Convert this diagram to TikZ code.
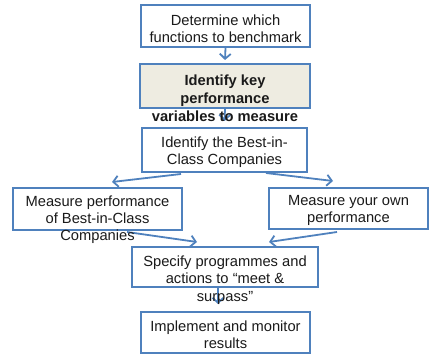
\documentclass[tikz,border=0pt]{standalone}
\usepackage{fontspec}
\setmainfont{Liberation Sans}
\usetikzlibrary{arrows.meta,calc}
\definecolor{bblue}{HTML}{4F81BD}
\definecolor{beige}{HTML}{EEECE1}
\definecolor{txtc}{HTML}{1A1A1A}
\tikzset{
  box/.style={draw=bblue, line width=2pt, rectangle, inner sep=0pt, fill=white},
  txt/.style={align=center, text=txtc, font=\fontsize{14.7}{17.2}\selectfont, inner sep=0pt},
  arr/.style={draw=bblue, line width=1.8pt, -{Straight Barb[length=5pt,width=11pt,line width=1.8pt]}}
}
\begin{document}
\begin{tikzpicture}[x=1pt,y=-1pt]
\useasboundingbox (0,0) rectangle (430,355);
% boxes
\node[box, minimum width=169pt, minimum height=42pt] (b1) at (225.5,26) {};
\node[box, fill=beige, minimum width=170pt, minimum height=44pt] (b2) at (225,86) {};
\node[box, minimum width=165pt, minimum height=44pt] (b3) at (224.5,150) {};
\node[box, minimum width=169pt, minimum height=42pt] (b4) at (97.5,209) {};
\node[box, minimum width=159pt, minimum height=41pt] (b5) at (348.5,208.5) {};
\node[box, minimum width=186pt, minimum height=40pt] (b6) at (225,267) {};
\node[box, minimum width=169pt, minimum height=41pt] (b7) at (225.5,332.5) {};
% connectors
\draw[arr] (b1.south) -- ($(b2.north)+(0,-3)$);
\draw[arr] (b2.south) -- ($(b3.north)+(0,-6)$);
\draw[arr] ($(b3.south west)+(40,1)$) -- ($(b4.north)+(14.5,-5)$);
\draw[arr] ($(b3.south east)+(-42,0)$) -- ($(b5.north)+(-15.5,-6)$);
\draw[arr] ($(b4.south west)+(115,1)$) -- ($(b6.north)+(-28,-4)$);
\draw[arr] ($(b5.south west)+(69,2)$) -- ($(b6.north)+(44,-4)$);
\draw[arr] ($(b6.south)+(-7,0)$) -- ($(b7.north)+(-7.5,-7)$);
% texts
\node[txt] (t1) at (225.5,28.5) {Determine which\\functions to benchmark};
\node[txt, font=\fontsize{14.7}{18}\selectfont\bfseries] (t2) at (225,98) {Identify key\\performance\\variables to measure};
\node[txt] (t3) at (224.5,152.5) {Identify the Best-in-\\Class Companies};
\node[txt] (t4) at (97.5,219.5) {Measure performance\\of Best-in-Class\\Companies};
\node[txt] (t5) at (348.5,210.5) {Measure your own\\performance};
\node[txt, font=\fontsize{14.7}{17.5}\selectfont] (t6) at (225,280) {Specify programmes and\\actions to “meet \&\\surpass”};
\node[txt] (t7) at (225.5,335) {Implement and monitor\\results};
\end{tikzpicture}
\end{document}
